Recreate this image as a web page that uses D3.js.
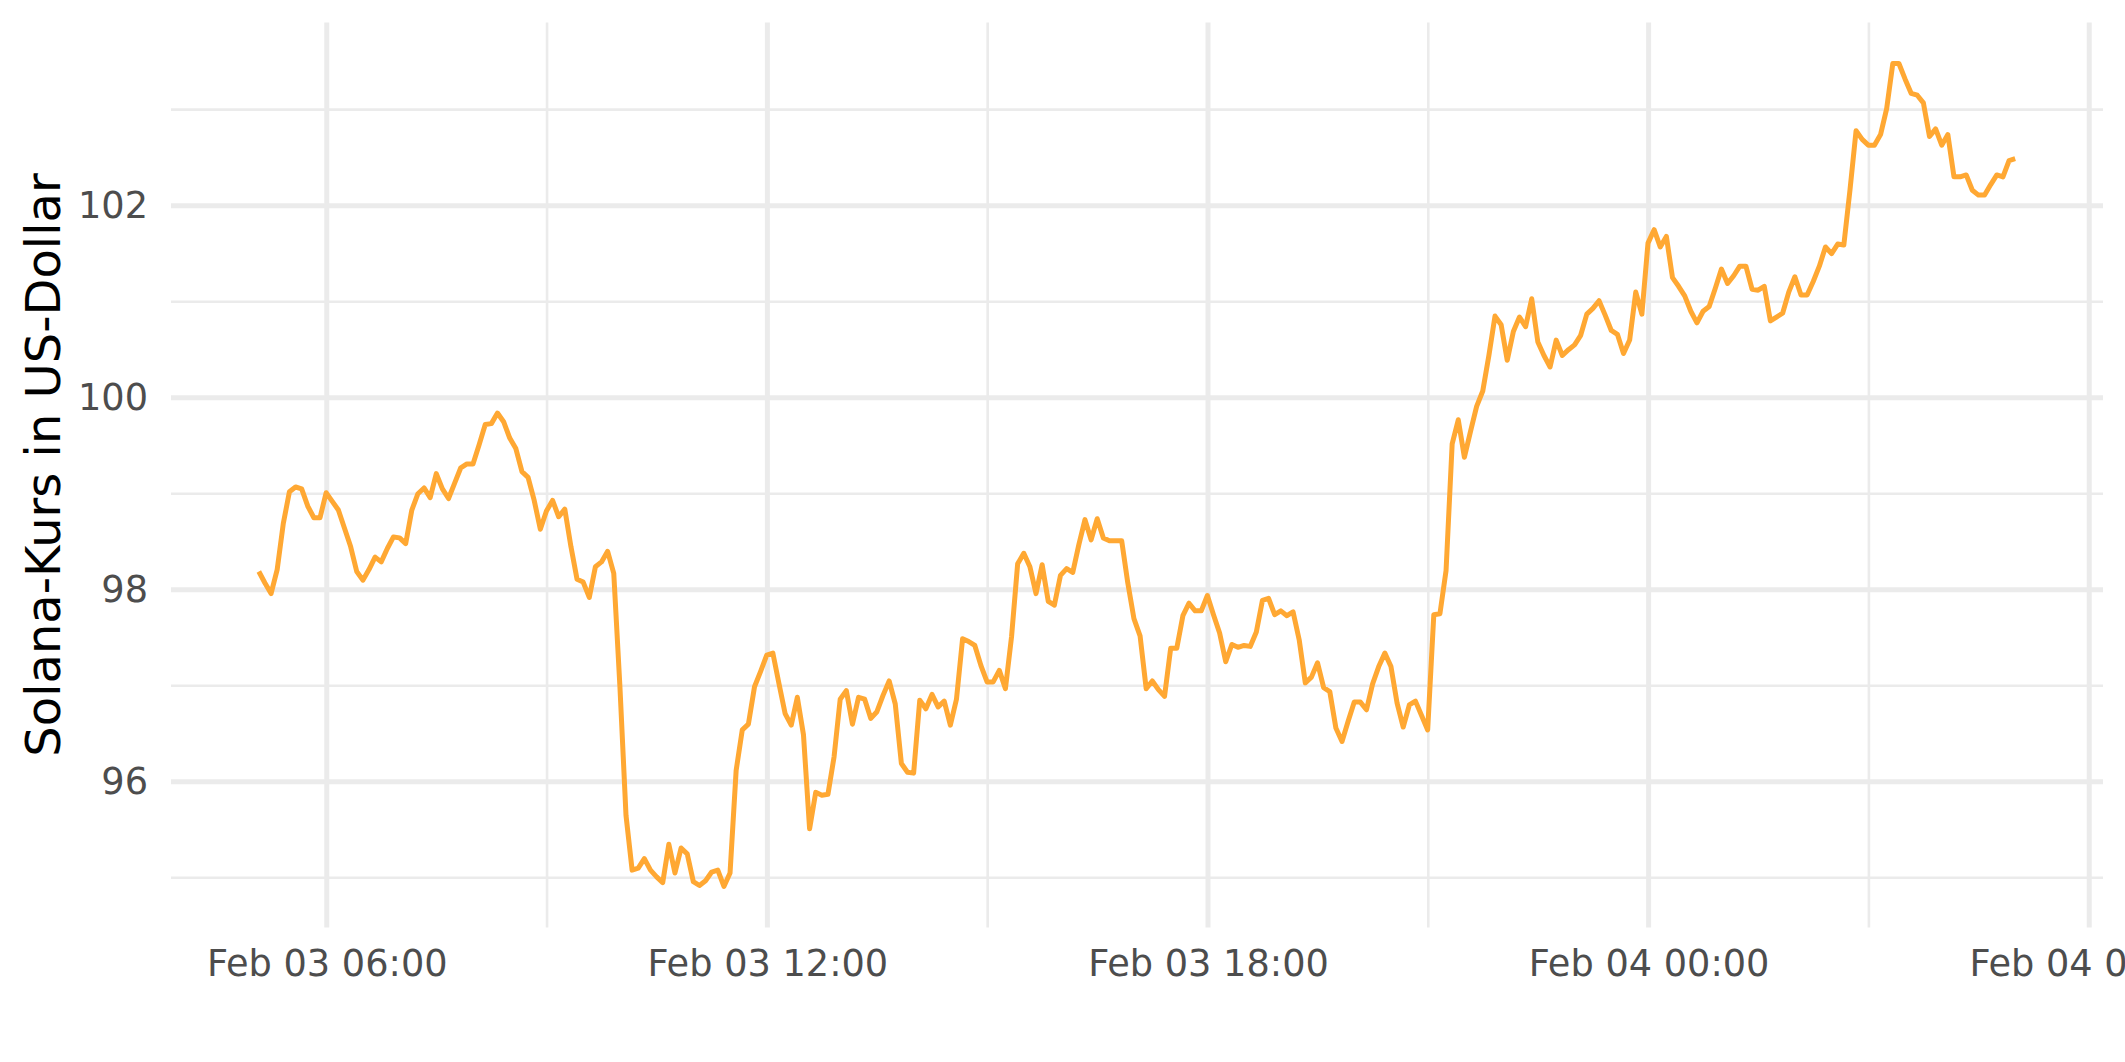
<!DOCTYPE html>
<html>
<head>
<meta charset="utf-8">
<script src="https://cdn.jsdelivr.net/npm/d3@7"></script>
<style>
html,body{margin:0;padding:0;background:#fff;}
svg{display:block;}
</style>
</head>
<body>
<svg id="chart" width="2125" height="1062"></svg>
<script>
// ---- data ----
const startTime = "2024-02-03T05:04:30Z";   // first observation (UTC)
const stepMinutes = 5;                      // sampling interval
const prices = [
98.19,98.07,97.96,98.21,98.69,99.02,99.07,99.05,98.87,98.75,
98.75,99.01,98.92,98.83,98.64,98.45,98.19,98.10,98.21,98.34,
98.29,98.43,98.55,98.54,98.48,98.83,99.00,99.06,98.96,99.21,
99.05,98.95,99.11,99.27,99.31,99.31,99.51,99.72,99.73,99.84,
99.75,99.58,99.47,99.23,99.17,98.93,98.63,98.82,98.93,98.76,
98.84,98.45,98.11,98.08,97.92,98.24,98.29,98.40,98.17,97.00,
95.65,95.08,95.10,95.20,95.08,95.01,94.95,95.35,95.05,95.31,
95.25,94.96,94.92,94.97,95.06,95.08,94.91,95.05,96.12,96.54,
96.60,96.99,97.15,97.32,97.34,97.02,96.71,96.59,96.88,96.49,
95.51,95.89,95.86,95.87,96.26,96.86,96.95,96.60,96.88,96.86,
96.66,96.73,96.90,97.05,96.81,96.19,96.10,96.09,96.85,96.76,
96.91,96.78,96.84,96.59,96.86,97.49,97.46,97.42,97.21,97.04,
97.04,97.16,96.97,97.51,98.27,98.38,98.24,97.96,98.26,97.88,
97.84,98.15,98.22,98.18,98.47,98.73,98.52,98.74,98.54,98.51,
98.51,98.51,98.07,97.70,97.52,96.97,97.05,96.96,96.89,97.39,
97.39,97.73,97.86,97.78,97.78,97.94,97.74,97.55,97.25,97.43,
97.40,97.42,97.41,97.56,97.89,97.91,97.74,97.78,97.73,97.77,
97.48,97.03,97.09,97.24,96.98,96.94,96.56,96.42,96.63,96.83,
96.83,96.75,97.02,97.20,97.34,97.20,96.82,96.57,96.80,96.84,
96.69,96.54,97.74,97.75,98.20,99.52,99.77,99.38,99.65,99.91,
100.07,100.44,100.85,100.76,100.39,100.69,100.84,100.74,101.03,100.58,
100.44,100.32,100.60,100.44,100.50,100.55,100.65,100.87,100.93,101.01,
100.86,100.70,100.66,100.46,100.60,101.10,100.87,101.61,101.75,101.57,
101.68,101.25,101.16,101.06,100.90,100.78,100.90,100.95,101.14,101.34,
101.19,101.27,101.37,101.37,101.13,101.12,101.16,100.80,100.84,100.88,
101.10,101.26,101.07,101.07,101.21,101.37,101.57,101.50,101.60,101.59,
102.16,102.78,102.69,102.63,102.63,102.74,103.01,103.48,103.48,103.32,
103.17,103.15,103.07,102.72,102.80,102.63,102.74,102.30,102.30,102.32,
102.16,102.11,102.11,102.22,102.32,102.30,102.47,102.49
];
const yMajorTicks = [96, 98, 100, 102];
const yTitle = "Solana-Kurs in US-Dollar";
const xTickFormat = "%b %d %H:%M";

// ---- build series ----
const t0 = new Date(startTime);
const data = prices.map((p, i) => ({ t: new Date(t0.getTime() + i * stepMinutes * 60000), v: p }));

// ---- layout ----
const W = 2125, H = 1062;
const panel = { left: 171, right: 2103, top: 22.4, bottom: 927.6 };

const svg = d3.select("#chart");
svg.append("rect").attr("width", W).attr("height", H).attr("fill", "#fff");

// ggplot-like 5% expansion
const tExt = d3.extent(data, d => d.t);
const tPad = (tExt[1] - tExt[0]) * 0.05;
const x = d3.scaleUtc()
  .domain([new Date(+tExt[0] - tPad), new Date(+tExt[1] + tPad)])
  .range([panel.left, panel.right]);

const vExt = d3.extent(data, d => d.v);
const vPad = (vExt[1] - vExt[0]) * 0.05;
const y = d3.scaleLinear()
  .domain([vExt[0] - vPad, vExt[1] + vPad])
  .range([panel.bottom, panel.top]);

// ---- grid ----
const grid = svg.append("g");
const xMajor = x.ticks(d3.utcHour.every(6));
const xMinor = x.ticks(d3.utcHour.every(3)).filter(d => d.getUTCHours() % 6 !== 0);
const yMinor = y.ticks(10).filter(v => !yMajorTicks.includes(v));

grid.selectAll("line.ymin").data(yMinor).join("line")
  .attr("x1", panel.left).attr("x2", panel.right)
  .attr("y1", d => y(d)).attr("y2", d => y(d))
  .attr("stroke", "#EBEBEB").attr("stroke-width", 2.6);
grid.selectAll("line.xmin").data(xMinor).join("line")
  .attr("y1", panel.top).attr("y2", panel.bottom)
  .attr("x1", d => x(d)).attr("x2", d => x(d))
  .attr("stroke", "#EBEBEB").attr("stroke-width", 2.6);
grid.selectAll("line.ymaj").data(yMajorTicks).join("line")
  .attr("x1", panel.left).attr("x2", panel.right)
  .attr("y1", d => y(d)).attr("y2", d => y(d))
  .attr("stroke", "#EBEBEB").attr("stroke-width", 5);
grid.selectAll("line.xmaj").data(xMajor).join("line")
  .attr("y1", panel.top).attr("y2", panel.bottom)
  .attr("x1", d => x(d)).attr("x2", d => x(d))
  .attr("stroke", "#EBEBEB").attr("stroke-width", 5);

// ---- line ----
const line = d3.line().x(d => x(d.t)).y(d => y(d.v));
svg.append("path").datum(data)
  .attr("d", line)
  .attr("fill", "none")
  .attr("stroke", "#FFA833")
  .attr("stroke-width", 5)
  .attr("stroke-linejoin", "round")
  .attr("stroke-linecap", "butt");

// ---- axes ----
const font = "'DejaVu Sans', Verdana, sans-serif";
const gy = svg.append("g").attr("transform", `translate(${panel.left},0)`)
  .call(d3.axisLeft(y).tickValues(yMajorTicks).tickSize(0).tickPadding(23));
gy.select(".domain").remove();
gy.selectAll("text").attr("font-family", font).attr("font-size", 36.7).attr("fill", "#4D4D4D");

const gx = svg.append("g").attr("transform", `translate(0,${panel.bottom})`)
  .call(d3.axisBottom(x).ticks(d3.utcHour.every(6)).tickFormat(d3.utcFormat(xTickFormat)).tickSize(0).tickPadding(22));
gx.select(".domain").remove();
gx.selectAll("text").attr("font-family", font).attr("font-size", 36.7).attr("fill", "#4D4D4D");

svg.append("text")
  .attr("transform", `translate(60,${(panel.top + panel.bottom) / 2 - 10}) rotate(-90)`)
  .attr("text-anchor", "middle")
  .attr("font-family", font)
  .attr("font-size", 48)
  .attr("fill", "#000")
  .text(yTitle);
</script>
</body>
</html>
